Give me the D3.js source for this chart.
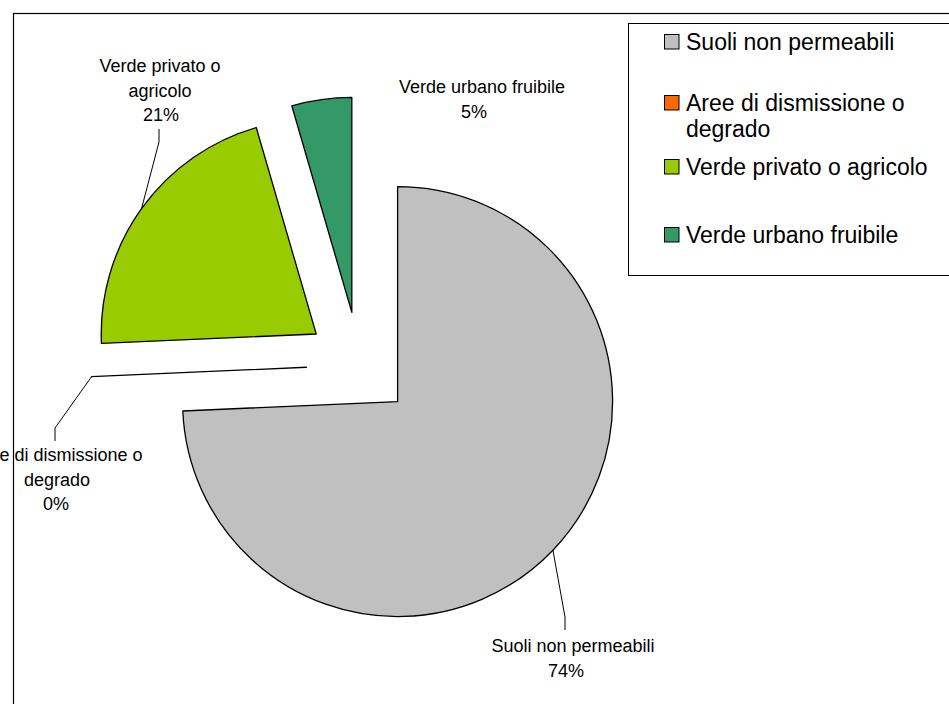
<!DOCTYPE html>
<html><head><meta charset="utf-8">
<script src="https://cdn.jsdelivr.net/npm/d3@7"></script>
<style>body{margin:0;background:#fff;} svg{display:block;font-family:"Liberation Sans",Arial,sans-serif;}</style>
</head><body>
<script>
// ---- data ----
const categories = ["Suoli non permeabili", "Aree di dismissione o degrado", "Verde privato o agricolo", "Verde urbano fruibile"];
const values = [74.3, 0, 21.2, 4.5];
const colors = ["#C0C0C0", "#FF6600", "#99CC00", "#339966"];
const legendLines = [["Suoli non permeabili"], ["Aree di dismissione o", "degrado"], ["Verde privato o agricolo"], ["Verde urbano fruibile"]];
const labelLines = [["Suoli non permeabili"], ["Aree di dismissione o", "degrado"], ["Verde privato o", "agricolo"], ["Verde urbano fruibile"]];

// ---- layout ----
const W = 949, H = 704;
const cx = 359.3, cy = 364.9, R = 215, explode = 53;
const labelLayout = [
  {nameX: 573, pctX: 566, y: 652, leader: [[565, 617], [565, 630]]},
  {nameX: 57, pctX: 56, y: 461, leader: [[55, 428], [55, 441]]},
  {nameX: 160, pctX: 161, y: 72, leader: [[159, 142], [159, 129]]},
  {nameX: 482, pctX: 474, y: 93, leader: null}
];
const legendBaselines = [50, 111, 175, 243];

const svg = d3.select("body").append("svg").attr("width", W).attr("height", H);

// outer chart frame
svg.append("rect").attr("x", 13.5).attr("y", 13.5).attr("width", 1000).attr("height", 1000)
  .attr("fill", "#fff").attr("stroke", "#000").attr("stroke-width", 1.2);

const pie = d3.pie().sort(null).value(d => d);
const arcs = pie(values);
const arc = d3.arc().innerRadius(0).outerRadius(R);
const total = d3.sum(values);

const g = svg.append("g").attr("transform", `translate(${cx},${cy})`);
const offset = a => {
  const m = (a.startAngle + a.endAngle) / 2;
  return [explode * Math.sin(m), -explode * Math.cos(m)];
};

g.selectAll("path.slice").data(arcs).join("path")
  .attr("class", "slice")
  .attr("transform", a => `translate(${offset(a)[0]},${offset(a)[1]})`)
  .attr("d", arc)
  .attr("fill", (a, i) => colors[i])
  .attr("stroke", "#000").attr("stroke-width", 1.3).attr("stroke-linejoin", "round");

// leader lines (start on the outer arc at slice mid-angle)
arcs.forEach((a, i) => {
  const L = labelLayout[i];
  if (!L.leader) return;
  const m = (a.startAngle + a.endAngle) / 2;
  const o = offset(a);
  const p0 = [cx + o[0] + R * Math.sin(m), cy + o[1] - R * Math.cos(m)];
  const pts = [p0, ...L.leader];
  svg.append("path").attr("d", d3.line()(pts)).attr("fill", "none")
    .attr("stroke", "#000").attr("stroke-width", 1);
});

// data labels
arcs.forEach((a, i) => {
  const L = labelLayout[i];
  const lines = labelLines[i];
  const pct = Math.round(values[i] / total * 100) + "%";
  const t = svg.append("g").attr("font-size", 18).attr("fill", "#000").attr("text-anchor", "middle");
  lines.forEach((ln, k) => {
    t.append("text").attr("x", L.nameX).attr("y", L.y + k * 24.5).text(ln);
  });
  t.append("text").attr("x", L.pctX).attr("y", L.y + lines.length * 24.5).text(pct);
});

// legend
svg.append("rect").attr("x", 628.5).attr("y", 23.5).attr("width", 400).attr("height", 252)
  .attr("fill", "#fff").attr("stroke", "#000").attr("stroke-width", 1);
const lg = svg.append("g").attr("font-size", 23).attr("fill", "#000");
categories.forEach((c, i) => {
  const b = legendBaselines[i];
  lg.append("rect").attr("x", 664.5).attr("y", b - 15.5).attr("width", 14.5).attr("height", 14.5)
    .attr("fill", colors[i]).attr("stroke", "#000").attr("stroke-width", 1);
  legendLines[i].forEach((ln, k) => {
    lg.append("text").attr("x", 686).attr("y", b + k * 25.5).text(ln);
  });
});
</script>
</body></html>
